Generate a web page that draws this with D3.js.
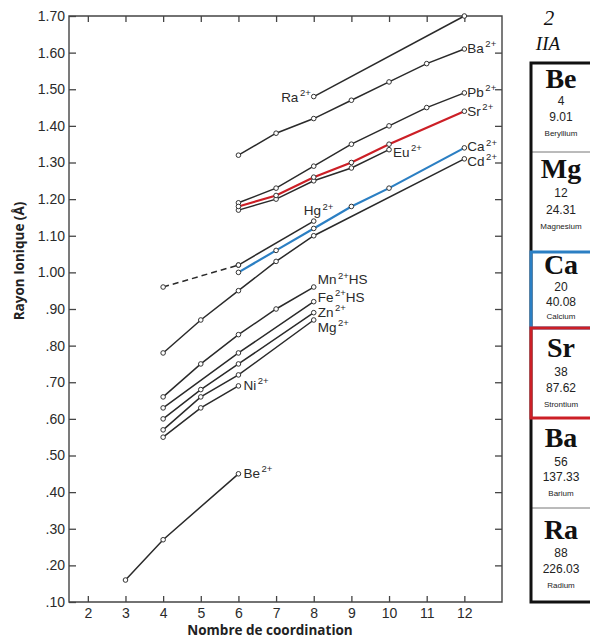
<!DOCTYPE html>
<html><head><meta charset="utf-8">
<script src="https://cdn.jsdelivr.net/npm/d3@7"></script>
<style>
html,body{margin:0;padding:0;background:#fff;}
svg{display:block;}
</style></head>
<body>
<svg id="chart" width="590" height="641"></svg>
<script>
// ---- data (coordination number, ionic radius Å) ----
const Ra = [[8,1.48],[12,1.70]];
const Ba = [[6,1.32],[7,1.38],[8,1.42],[9,1.47],[10,1.52],[11,1.57],[12,1.61]];
const Pb = [[6,1.19],[7,1.23],[8,1.29],[9,1.35],[10,1.40],[11,1.45],[12,1.49]];
const Sr = [[6,1.18],[7,1.21],[8,1.26],[9,1.30],[10,1.35],[12,1.44]];
const Eu = [[6,1.17],[7,1.20],[8,1.25],[9,1.285],[10,1.335]];
const Ca = [[6,1.00],[7,1.06],[8,1.12],[9,1.18],[10,1.23],[12,1.34]];
const Cd = [[4,0.78],[5,0.87],[6,0.95],[7,1.03],[8,1.10],[12,1.31]];
const HgDashed = [[4,0.96],[6,1.02]];
const Hg = [[6,1.02],[8,1.14]];
const Mn = [[4,0.66],[5,0.75],[6,0.83],[7,0.90],[8,0.96]];
const Fe = [[4,0.63],[6,0.78],[8,0.92]];
const Zn = [[4,0.60],[5,0.68],[6,0.75],[8,0.89]];
const Mg = [[4,0.57],[5,0.66],[6,0.72],[8,0.87]];
const Ni = [[4,0.55],[5,0.63],[6,0.69]];
const Be = [[3,0.16],[4,0.27],[6,0.45]];

const xTicks = [2,3,4,5,6,7,8,9,10,11,12];
const yTicks = [0.10,0.20,0.30,0.40,0.50,0.60,0.70,0.80,0.90,1.00,1.10,1.20,1.30,1.40,1.50,1.60,1.70];
const yTickLabels = [".10",".20",".30",".40",".50",".60",".70",".80",".90","1.00","1.10","1.20","1.30","1.40","1.50","1.60","1.70"];

// periodic table column (group 2)
const groupNumber = "2";
const groupName = "IIA";
const elSymbols = ["Be","Mg","Ca","Sr","Ba","Ra"];
const elNumbers = ["4","12","20","38","56","88"];
const elMasses = ["9.01","24.31","40.08","87.62","137.33","226.03"];
const elNames = ["Beryllium","Magnesium","Calcium","Strontium","Barium","Radium"];

// ---- drawing ----
const svg = d3.select("#chart");
const C_RED = "#cc1f26", C_BLUE = "#2b7fc3", C_INK = "#2a2a2a";
const x = d3.scaleLinear().domain([1.5,13]).range([69,502]);
const y = d3.scaleLinear().domain([0.10,1.70]).range([602,16]);
const line = d3.line().x(d=>x(d[0])).y(d=>y(d[1]));

const ax = svg.append("g").attr("fill","none").attr("stroke","#444").attr("stroke-width",1.4);
ax.append("path").attr("d", `M${x(1.5)},${y(1.7)}H${x(13)}V${y(0.1)}H${x(1.5)}Z`);

const axBottom = svg.append("g").attr("transform",`translate(0,${y(0.1)})`)
  .call(d3.axisBottom(x).tickValues(xTicks).tickSize(-6).tickPadding(6).tickFormat(d3.format("d")));
const axTop = svg.append("g").attr("transform",`translate(0,${y(1.7)})`)
  .call(d3.axisTop(x).tickValues(xTicks).tickSize(-6).tickFormat(""));
const axLeft = svg.append("g").attr("transform",`translate(${x(1.5)},0)`)
  .call(d3.axisLeft(y).tickValues(yTicks).tickSize(-7).tickPadding(4).tickFormat((d,i)=>yTickLabels[i]));
const axRight = svg.append("g").attr("transform",`translate(${x(13)},0)`)
  .call(d3.axisRight(y).tickValues(yTicks.slice(1,-1)).tickSize(-7).tickFormat(""));
[axBottom,axTop,axLeft,axRight].forEach(g=>{
  g.select(".domain").remove();
  g.selectAll(".tick line").attr("stroke","#444").attr("stroke-width",1.3);
  g.selectAll(".tick text").attr("fill",C_INK).style("font-family","'Liberation Sans',Arial,sans-serif").style("font-size","14px");
});

svg.append("text").attr("x",270).attr("y",635).attr("text-anchor","middle")
  .style("font-family","'Open Sans',sans-serif").style("font-weight","700").style("font-size","13.5px")
  .attr("fill","#222").text("Nombre de coordination");
svg.append("text").attr("transform","translate(24,261) rotate(-90)").attr("text-anchor","middle")
  .style("font-family","'Open Sans',sans-serif").style("font-weight","700").style("font-size","13.5px")
  .attr("fill","#222").text("Rayon Ionique (Å)");

const series = [
  {d:Ra},{d:Ba},{d:Pb},{d:Eu},{d:Sr,c:C_RED},{d:Cd},{d:Hg},{d:HgDashed,dash:"6,4"},{d:Ca,c:C_BLUE},
  {d:Mn},{d:Fe},{d:Zn},{d:Mg},{d:Ni},{d:Be}
];
const gS = svg.append("g");
series.forEach(s=>{
  gS.append("path").attr("d",line(s.d)).attr("fill","none")
    .attr("stroke",s.c||C_INK).attr("stroke-width",s.c?2.2:1.5)
    .attr("stroke-dasharray",s.dash||null);
});
series.forEach(s=>{
  gS.selectAll(null).data(s.d).enter().append("circle")
    .attr("cx",d=>x(d[0])).attr("cy",d=>y(d[1])).attr("r",2.3)
    .attr("fill","#fff").attr("stroke","#333").attr("stroke-width",1);
});

const labels = [
  ["Ra",Ra[0],"end",-3,5,""],
  ["Ba",Ba[Ba.length-1],"start",3,4,""],
  ["Pb",Pb[Pb.length-1],"start",3,4,""],
  ["Sr",Sr[Sr.length-1],"start",3,4.5,""],
  ["Ca",Ca[Ca.length-1],"start",3,3.5,""],
  ["Cd",Cd[Cd.length-1],"start",3,7,""],
  ["Eu",Eu[Eu.length-1],"start",4,7,""],
  ["Hg",Hg[Hg.length-1],"start",-10,-6,""],
  ["Mn",Mn[Mn.length-1],"start",4,-3,"HS"],
  ["Fe",Fe[Fe.length-1],"start",4,0,"HS"],
  ["Zn",Zn[Zn.length-1],"start",4,4,""],
  ["Mg",Mg[Mg.length-1],"start",4,12,""],
  ["Ni",Ni[Ni.length-1],"start",5,4,""],
  ["Be",Be[Be.length-1],"start",5,4,""]
];
labels.forEach(([name,p,anchor,dx,dy,suf])=>{
  const t = svg.append("text").attr("x",x(p[0])+dx).attr("y",y(p[1])+dy)
    .attr("text-anchor",anchor).attr("fill",C_INK)
    .style("font-family","'Liberation Sans',Arial,sans-serif").style("font-size","13.5px");
  t.append("tspan").text(name);
  t.append("tspan").attr("dy",-5.5).attr("dx",1.5).style("font-size","9.5px").text("2+");
  if(suf) t.append("tspan").attr("dy",5.5).text(suf);
});

// ---- periodic table column ----
const pt = svg.append("g");
const cellX = 531, cellW = 62, cx = 561;
const cellEdges = [63,152,252,328,418,508,602];
const rowOffsets = [[25,42,58,73],[26,45,62,77],[22,39,54,67],[29,48,64,79],[29,48,63,78],[31,49,65,80]];
pt.append("text").attr("x",549).attr("y",25).attr("text-anchor","middle")
  .style("font-family","'Liberation Serif',serif").style("font-style","italic").style("font-size","21px")
  .attr("fill","#111").text(groupNumber);
pt.append("text").attr("x",548).attr("y",50).attr("text-anchor","middle")
  .style("font-family","'Liberation Serif',serif").style("font-style","italic").style("font-size","19px")
  .attr("fill","#111").text(groupName);

elSymbols.forEach((sym,i)=>{
  const t0 = cellEdges[i], o = rowOffsets[i];
  pt.append("text").attr("x",cx).attr("y",t0+o[0]).attr("text-anchor","middle")
    .style("font-family","'Liberation Serif',serif").style("font-weight","700").style("font-size","28px")
    .attr("fill","#111").text(sym);
  pt.append("text").attr("x",cx).attr("y",t0+o[1]).attr("text-anchor","middle")
    .style("font-family","'Liberation Sans',Arial,sans-serif").style("font-size","12px")
    .attr("fill","#222").text(elNumbers[i]);
  pt.append("text").attr("x",cx).attr("y",t0+o[2]).attr("text-anchor","middle")
    .style("font-family","'Liberation Sans',Arial,sans-serif").style("font-size","12px")
    .attr("fill","#222").text(elMasses[i]);
  pt.append("text").attr("x",cx).attr("y",t0+o[3]).attr("text-anchor","middle")
    .style("font-family","'Liberation Sans',Arial,sans-serif").style("font-size","8px")
    .attr("fill","#222").text(elNames[i]);
});
cellEdges.slice(1,-1).forEach(e=>{
  pt.append("line").attr("x1",cellX).attr("x2",cellX+cellW).attr("y1",e).attr("y2",e)
    .attr("stroke","#777").attr("stroke-width",1);
});
pt.append("rect").attr("x",cellX).attr("y",cellEdges[0]).attr("width",cellW+10)
  .attr("height",cellEdges[6]-cellEdges[0]).attr("fill","none").attr("stroke","#111").attr("stroke-width",3);
pt.append("rect").attr("x",cellX).attr("y",cellEdges[2]).attr("width",cellW+10)
  .attr("height",cellEdges[3]-cellEdges[2]).attr("fill","none").attr("stroke",C_BLUE).attr("stroke-width",3);
pt.append("rect").attr("x",cellX).attr("y",cellEdges[3]).attr("width",cellW+10)
  .attr("height",cellEdges[4]-cellEdges[3]).attr("fill","none").attr("stroke",C_RED).attr("stroke-width",3);
</script>
</body></html>
